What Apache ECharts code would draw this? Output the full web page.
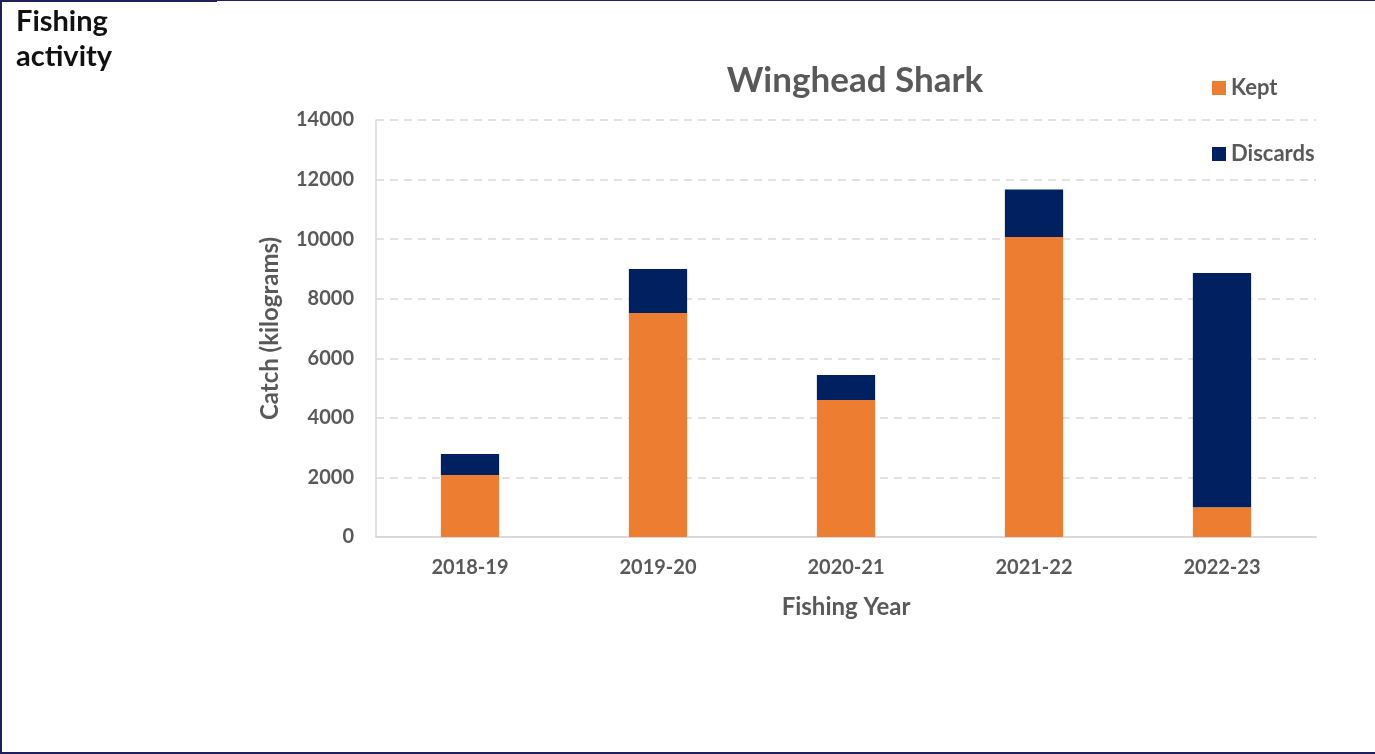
<!DOCTYPE html>
<html>
<head>
<meta charset="utf-8">
<script src="https://cdn.jsdelivr.net/npm/echarts@6/dist/echarts.min.js"></script>
<style>
  html, body { margin: 0; padding: 0; background: #ffffff; }
  #frame { position: absolute; left: 0; top: 0; width: 1375px; height: 754px; box-sizing: border-box;
           border-left: 2px solid #1f1f5c; border-bottom: 2px solid #1f1f5c; border-top: 1px solid #1f1f5c; }
  #tab { position: absolute; left: 0; top: 0; width: 217px; height: 2px; background: #1f1f5c; }
  #heading { position: absolute; left: 16px; top: 2px; font-family: Lato, sans-serif; font-weight: bold;
             font-size: 29px; line-height: 35px; color: #111111; }
  #chart { position: absolute; left: 0; top: 0; width: 1375px; height: 754px; }
</style>
</head>
<body>
<div id="frame"></div>
<div id="tab"></div>
<div id="chart"></div>
<div id="heading">Fishing<br>activity</div>
<script>
// Winghead Shark catch by fishing year (kg)
const years = ['2018-19', '2019-20', '2020-21', '2021-22', '2022-23'];
const kept = [2080, 7520, 4600, 10070, 1000];
const discards = [710, 1480, 840, 1600, 7860];
const yTicks = { min: 0, max: 14000, interval: 2000 };

const grey = '#595959';
const font = 'Lato, sans-serif';

const chart = echarts.init(document.getElementById('chart'));
chart.setOption({
  animation: false,
  title: {
    text: 'Winghead Shark',
    left: 850, top: 58, textAlign: 'center',
    textStyle: { fontFamily: font, fontWeight: 'bold', fontSize: 35, color: grey }
  },
  legend: {
    orient: 'vertical',
    left: 1207, top: 72,
    itemWidth: 14, itemHeight: 14, itemGap: 44,
    icon: 'rect',
    textStyle: { fontFamily: font, fontWeight: 'bold', fontSize: 22, color: grey },
    data: ['Kept', 'Discards']
  },
  grid: { left: 376, right: 59, top: 120, bottom: 217 },
  xAxis: {
    type: 'category',
    data: years,
    name: 'Fishing Year',
    nameLocation: 'middle',
    nameGap: 58,
    nameTextStyle: { fontFamily: font, fontWeight: 'bold', fontSize: 24, color: grey },
    axisLine: { lineStyle: { color: '#d9d9d9', width: 2 } },
    axisTick: { show: false },
    axisLabel: { fontFamily: font, fontWeight: 'bold', fontSize: 20, color: grey, margin: 21 }
  },
  yAxis: {
    type: 'value',
    min: yTicks.min, max: yTicks.max, interval: yTicks.interval,
    name: 'Catch (kilograms)',
    nameLocation: 'middle',
    nameGap: 94,
    nameTextStyle: { fontFamily: font, fontWeight: 'bold', fontSize: 24, color: grey },
    axisLine: { show: true, lineStyle: { color: '#d9d9d9', width: 1.5 } },
    axisTick: { show: false },
    axisLabel: { fontFamily: font, fontWeight: 'bold', fontSize: 20, color: grey, margin: 22,
                 formatter: v => String(v) },
    splitLine: { lineStyle: { color: '#d9d9d9', width: 1.5, type: [8, 6] } }
  },
  series: [
    { name: 'Kept', type: 'bar', stack: 'catch', data: kept, barWidth: '31%',
      itemStyle: { color: '#ed7d31' } },
    { name: 'Discards', type: 'bar', stack: 'catch', data: discards, barWidth: '31%',
      itemStyle: { color: '#002060' } }
  ]
});
</script>
</body>
</html>
